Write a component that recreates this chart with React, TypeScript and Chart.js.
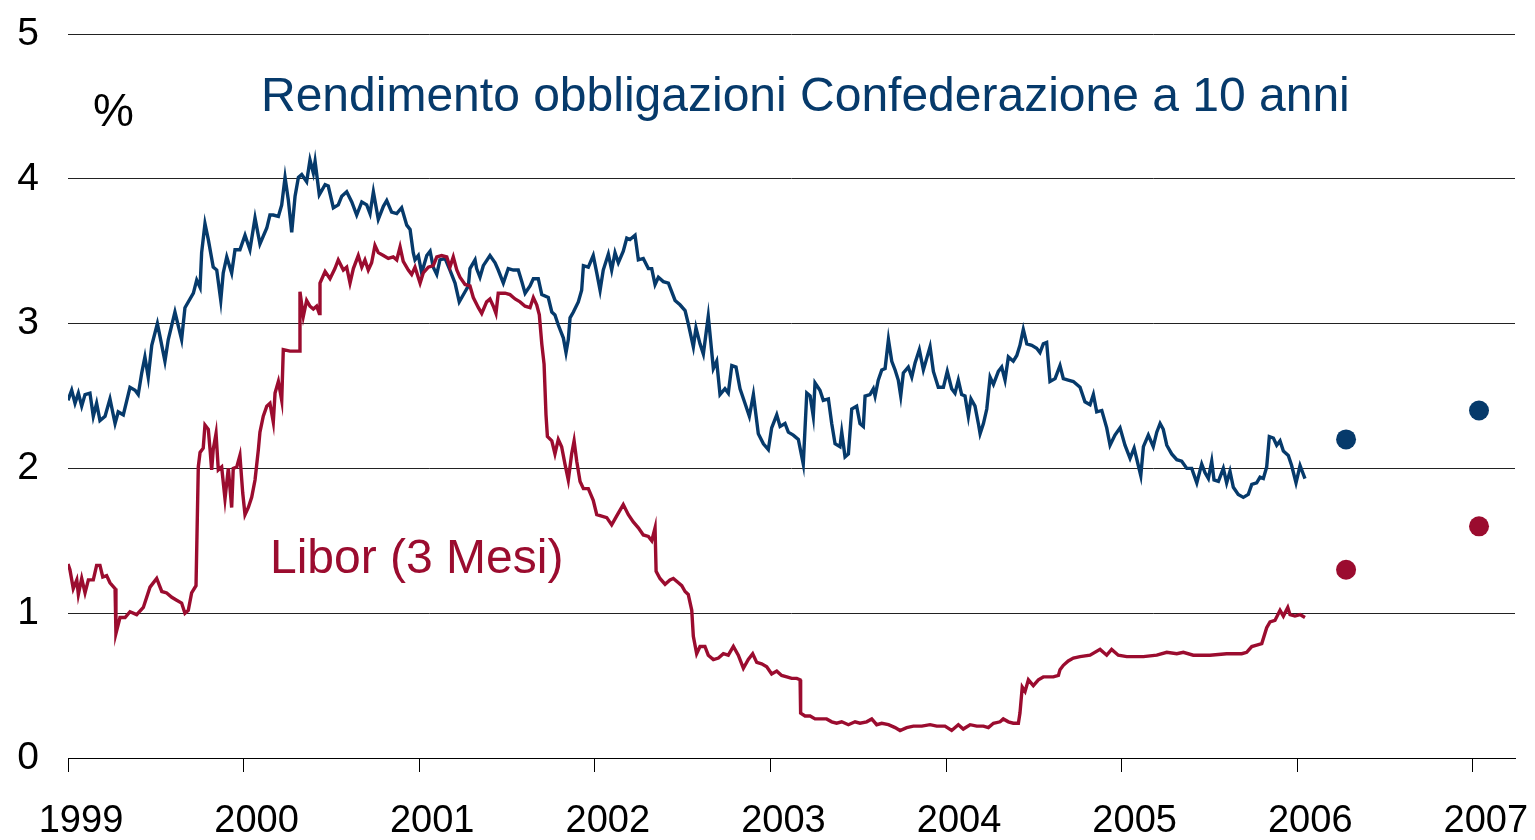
import React, { useEffect, useRef } from "react";
import { Chart, registerables } from "chart.js";

Chart.register(...registerables);

const BASE_YEAR = 1999;
const FONT = "'Liberation Sans', Arial, Helvetica, sans-serif";
const BLUE = "#063a6b";
const RED = "#9b0c2f";

const TITLE = "Rendimento obbligazioni Confederazione a 10 anni";
const LIBOR_LABEL = "Libor (3 Mesi)";
const UNIT_LABEL = "%";

const yearTicks = [1999, 2000, 2001, 2002, 2003, 2004, 2005, 2006, 2007];
const yTicks = [0, 1, 2, 3, 4, 5];

// 10-year Confederation bond yield: years since 1 Jan 1999, value in %
const yieldT = [
  0.000, 0.021, 0.040, 0.059, 0.078, 0.097, 0.125, 0.144, 0.163, 0.182,
  0.211, 0.239, 0.268, 0.286, 0.315, 0.353, 0.382, 0.400, 0.420, 0.438,
  0.457, 0.477, 0.509, 0.524, 0.552, 0.571, 0.609, 0.647, 0.666, 0.714,
  0.733, 0.752, 0.761, 0.780, 0.799, 0.827, 0.847, 0.870, 0.884, 0.904,
  0.932, 0.951, 0.979, 1.008, 1.036, 1.065, 1.093, 1.132, 1.150, 1.169,
  1.198, 1.217, 1.236, 1.255, 1.274, 1.293, 1.312, 1.331, 1.359, 1.378,
  1.397, 1.407, 1.431, 1.464, 1.482, 1.511, 1.539, 1.559, 1.587, 1.616,
  1.644, 1.673, 1.701, 1.720, 1.739, 1.767, 1.796, 1.815, 1.843, 1.872,
  1.900, 1.929, 1.948, 1.966, 1.976, 1.995, 2.014, 2.043, 2.062, 2.080,
  2.100, 2.118, 2.147, 2.175, 2.204, 2.228, 2.261, 2.280, 2.289, 2.318,
  2.327, 2.346, 2.365, 2.403, 2.432, 2.450, 2.479, 2.507, 2.536, 2.564,
  2.584, 2.603, 2.631, 2.650, 2.678, 2.698, 2.735, 2.755, 2.773, 2.792,
  2.821, 2.836, 2.849, 2.859, 2.878, 2.906, 2.925, 2.935, 2.963, 2.991,
  3.011, 3.030, 3.048, 3.077, 3.096, 3.115, 3.134, 3.162, 3.182, 3.200,
  3.229, 3.248, 3.276, 3.305, 3.324, 3.343, 3.362, 3.390, 3.419, 3.457,
  3.485, 3.514, 3.532, 3.561, 3.576, 3.599, 3.618, 3.646, 3.675, 3.694,
  3.713, 3.741, 3.760, 3.780, 3.804, 3.827, 3.855, 3.880, 3.903, 3.931,
  3.960, 3.988, 4.007, 4.036, 4.055, 4.083, 4.102, 4.130, 4.159, 4.187,
  4.207, 4.226, 4.244, 4.254, 4.282, 4.301, 4.330, 4.349, 4.368, 4.396,
  4.406, 4.425, 4.444, 4.463, 4.491, 4.510, 4.529, 4.539, 4.567, 4.586,
  4.596, 4.614, 4.634, 4.653, 4.672, 4.691, 4.710, 4.728, 4.742, 4.757,
  4.785, 4.805, 4.824, 4.848, 4.871, 4.890, 4.909, 4.928, 4.956, 4.985,
  5.007, 5.032, 5.051, 5.070, 5.089, 5.108, 5.127, 5.142, 5.165, 5.184,
  5.194, 5.213, 5.232, 5.251, 5.270, 5.298, 5.317, 5.336, 5.355, 5.383,
  5.403, 5.421, 5.440, 5.460, 5.488, 5.516, 5.535, 5.554, 5.573, 5.592,
  5.621, 5.649, 5.668, 5.696, 5.725, 5.763, 5.791, 5.820, 5.839, 5.858,
  5.887, 5.915, 5.934, 5.962, 5.991, 6.019, 6.048, 6.071, 6.095, 6.109,
  6.124, 6.152, 6.180, 6.200, 6.219, 6.237, 6.257, 6.285, 6.314, 6.342,
  6.371, 6.399, 6.428, 6.456, 6.475, 6.494, 6.513, 6.526, 6.551, 6.579,
  6.598, 6.617, 6.636, 6.664, 6.693, 6.721, 6.741, 6.769, 6.788, 6.807,
  6.826, 6.841, 6.864, 6.883, 6.902, 6.921, 6.949, 6.968, 6.993, 7.016,
  7.044,
];
const yieldValues = [
  2.47, 2.54, 2.45, 2.52, 2.43, 2.51, 2.52, 2.36, 2.45, 2.33,
  2.36, 2.48, 2.31, 2.39, 2.37, 2.56, 2.54, 2.51, 2.66, 2.77,
  2.63, 2.85, 3.00, 2.91, 2.74, 2.89, 3.08, 2.89, 3.11, 3.21,
  3.30, 3.25, 3.49, 3.69, 3.58, 3.39, 3.37, 3.16, 3.35, 3.46,
  3.35, 3.51, 3.51, 3.61, 3.51, 3.73, 3.55, 3.66, 3.75, 3.75,
  3.74, 3.82, 4.01, 3.85, 3.63, 3.88, 4.01, 4.03, 3.98, 4.13,
  4.04, 4.12, 3.89, 3.96, 3.95, 3.80, 3.82, 3.88, 3.91, 3.84,
  3.75, 3.84, 3.82, 3.76, 3.91, 3.72, 3.81, 3.85, 3.77, 3.76,
  3.80, 3.68, 3.65, 3.49, 3.44, 3.47, 3.35, 3.47, 3.50, 3.39,
  3.34, 3.44, 3.45, 3.37, 3.28, 3.15, 3.22, 3.26, 3.38, 3.44,
  3.38, 3.32, 3.40, 3.47, 3.42, 3.37, 3.28, 3.38, 3.37, 3.37,
  3.29, 3.21, 3.26, 3.31, 3.31, 3.20, 3.18, 3.08, 3.06, 2.99,
  2.90, 2.80, 2.89, 3.04, 3.08, 3.15, 3.23, 3.40, 3.39, 3.47,
  3.35, 3.23, 3.37, 3.48, 3.37, 3.49, 3.42, 3.50, 3.59, 3.58,
  3.61, 3.44, 3.45, 3.38, 3.38, 3.27, 3.32, 3.29, 3.28, 3.16,
  3.13, 3.09, 3.00, 2.84, 2.97, 2.86, 2.79, 3.05, 2.69, 2.74,
  2.51, 2.55, 2.52, 2.71, 2.70, 2.55, 2.45, 2.36, 2.51, 2.24,
  2.17, 2.13, 2.28, 2.37, 2.29, 2.31, 2.25, 2.23, 2.20, 2.03,
  2.52, 2.50, 2.36, 2.59, 2.54, 2.47, 2.48, 2.31, 2.17, 2.15,
  2.25, 2.08, 2.10, 2.41, 2.43, 2.31, 2.29, 2.50, 2.51, 2.55,
  2.50, 2.61, 2.68, 2.69, 2.89, 2.74, 2.68, 2.61, 2.50, 2.66,
  2.70, 2.63, 2.73, 2.82, 2.68, 2.76, 2.84, 2.67, 2.56, 2.56,
  2.67, 2.55, 2.52, 2.61, 2.51, 2.50, 2.36, 2.48, 2.43, 2.31,
  2.24, 2.31, 2.41, 2.63, 2.58, 2.67, 2.70, 2.61, 2.77, 2.74,
  2.78, 2.85, 2.96, 2.86, 2.85, 2.83, 2.80, 2.86, 2.87, 2.60,
  2.62, 2.71, 2.62, 2.61, 2.60, 2.56, 2.46, 2.44, 2.51, 2.39,
  2.40, 2.28, 2.16, 2.23, 2.28, 2.16, 2.07, 2.14, 2.02, 1.95,
  2.15, 2.23, 2.15, 2.25, 2.31, 2.27, 2.16, 2.10, 2.06, 2.05,
  2.00, 2.00, 1.90, 2.03, 1.97, 1.93, 2.05, 1.92, 1.91, 2.00,
  1.90, 1.98, 1.87, 1.82, 1.80, 1.82, 1.89, 1.90, 1.94, 1.93,
  2.01, 2.22, 2.21, 2.16, 2.19, 2.12, 2.09, 2.02, 1.90, 2.02,
  1.93,
];

// 3-month Libor: years since 1 Jan 1999, value in %
const liborT = [
  0.000, 0.011, 0.030, 0.050, 0.059, 0.078, 0.097, 0.116, 0.144, 0.163,
  0.182, 0.198, 0.220, 0.239, 0.268, 0.273, 0.296, 0.325, 0.353, 0.391,
  0.429, 0.467, 0.505, 0.534, 0.562, 0.591, 0.619, 0.647, 0.666, 0.685,
  0.704, 0.729, 0.742, 0.752, 0.770, 0.780, 0.799, 0.809, 0.818, 0.827,
  0.843, 0.856, 0.875, 0.894, 0.913, 0.932, 0.941, 0.961, 0.979, 0.995,
  1.008, 1.027, 1.046, 1.065, 1.084, 1.093, 1.112, 1.132, 1.150, 1.169,
  1.179, 1.198, 1.217, 1.226, 1.264, 1.317, 1.321, 1.340, 1.359, 1.378,
  1.397, 1.416, 1.431, 1.435, 1.464, 1.492, 1.520, 1.539, 1.568, 1.587,
  1.606, 1.625, 1.653, 1.673, 1.691, 1.710, 1.729, 1.748, 1.767, 1.796,
  1.824, 1.852, 1.872, 1.891, 1.909, 1.938, 1.957, 1.976, 2.005, 2.023,
  2.052, 2.080, 2.100, 2.128, 2.157, 2.175, 2.194, 2.214, 2.232, 2.261,
  2.289, 2.308, 2.337, 2.356, 2.384, 2.403, 2.422, 2.437, 2.450, 2.489,
  2.517, 2.546, 2.574, 2.603, 2.631, 2.650, 2.669, 2.684, 2.698, 2.711,
  2.722, 2.730, 2.755, 2.773, 2.792, 2.811, 2.830, 2.849, 2.868, 2.882,
  2.897, 2.916, 2.935, 2.963, 2.991, 3.011, 3.039, 3.068, 3.096, 3.124,
  3.162, 3.191, 3.219, 3.248, 3.276, 3.305, 3.324, 3.343, 3.349, 3.371,
  3.400, 3.428, 3.447, 3.476, 3.495, 3.514, 3.532, 3.552, 3.561, 3.580,
  3.599, 3.627, 3.646, 3.675, 3.704, 3.732, 3.760, 3.789, 3.817, 3.846,
  3.874, 3.899, 3.922, 3.950, 3.979, 4.007, 4.036, 4.064, 4.093, 4.121,
  4.150, 4.169, 4.172, 4.197, 4.226, 4.254, 4.282, 4.320, 4.349, 4.377,
  4.406, 4.444, 4.482, 4.510, 4.548, 4.577, 4.605, 4.634, 4.672, 4.710,
  4.738, 4.776, 4.814, 4.862, 4.909, 4.947, 4.994, 5.032, 5.070, 5.098,
  5.137, 5.175, 5.213, 5.241, 5.270, 5.308, 5.326, 5.355, 5.383, 5.412,
  5.421, 5.434, 5.450, 5.469, 5.497, 5.526, 5.554, 5.583, 5.611, 5.640,
  5.649, 5.668, 5.696, 5.725, 5.763, 5.820, 5.877, 5.915, 5.943, 5.981,
  6.029, 6.124, 6.200, 6.257, 6.314, 6.351, 6.408, 6.503, 6.598, 6.684,
  6.712, 6.741, 6.769, 6.798, 6.826, 6.845, 6.873, 6.902, 6.921, 6.946,
  6.959, 6.987, 7.016, 7.044,
];
const liborValues = [
  1.34, 1.30, 1.17, 1.23, 1.13, 1.24, 1.14, 1.23, 1.23, 1.33,
  1.33, 1.25, 1.26, 1.21, 1.17, 0.86, 0.97, 0.97, 1.01, 0.99,
  1.04, 1.18, 1.24, 1.15, 1.14, 1.11, 1.09, 1.07, 1.00, 1.02,
  1.14, 1.19, 2.01, 2.11, 2.14, 2.30, 2.27, 2.13, 1.99, 2.13,
  2.24, 1.99, 2.01, 1.79, 2.00, 1.73, 2.00, 2.01, 2.09, 1.83,
  1.68, 1.73, 1.80, 1.92, 2.13, 2.25, 2.36, 2.43, 2.45, 2.32,
  2.52, 2.60, 2.47, 2.82, 2.81, 2.81, 3.22, 3.05, 3.16, 3.12,
  3.10, 3.12, 3.07, 3.28, 3.36, 3.31, 3.38, 3.44, 3.37, 3.39,
  3.28, 3.38, 3.47, 3.39, 3.44, 3.37, 3.42, 3.54, 3.49, 3.47,
  3.45, 3.46, 3.44, 3.53, 3.43, 3.37, 3.34, 3.39, 3.28, 3.35,
  3.39, 3.40, 3.46, 3.47, 3.46, 3.39, 3.46, 3.37, 3.32, 3.27,
  3.26, 3.18, 3.11, 3.07, 3.15, 3.17, 3.12, 3.07, 3.21, 3.21,
  3.20, 3.17, 3.15, 3.12, 3.11, 3.18, 3.13, 3.06, 2.86, 2.72,
  2.37, 2.22, 2.19, 2.10, 2.20, 2.15, 2.03, 1.92, 2.10, 2.19,
  2.05, 1.91, 1.86, 1.86, 1.78, 1.68, 1.67, 1.66, 1.61, 1.67,
  1.75, 1.68, 1.63, 1.59, 1.54, 1.53, 1.50, 1.59, 1.29, 1.24,
  1.20, 1.23, 1.24, 1.21, 1.19, 1.15, 1.13, 1.02, 0.84, 0.72,
  0.77, 0.77, 0.71, 0.68, 0.69, 0.72, 0.71, 0.77, 0.71, 0.62,
  0.68, 0.72, 0.66, 0.65, 0.63, 0.58, 0.60, 0.57, 0.56, 0.55,
  0.55, 0.54, 0.31, 0.29, 0.29, 0.27, 0.27, 0.27, 0.25, 0.24,
  0.25, 0.23, 0.25, 0.24, 0.25, 0.27, 0.23, 0.24, 0.23, 0.21,
  0.19, 0.21, 0.22, 0.22, 0.23, 0.22, 0.22, 0.19, 0.23, 0.20,
  0.23, 0.22, 0.22, 0.21, 0.24, 0.25, 0.27, 0.25, 0.24, 0.24,
  0.31, 0.49, 0.46, 0.54, 0.50, 0.54, 0.56, 0.56, 0.56, 0.57,
  0.61, 0.64, 0.67, 0.69, 0.70, 0.71, 0.75, 0.71, 0.75, 0.71,
  0.70, 0.70, 0.71, 0.73, 0.72, 0.73, 0.71, 0.71, 0.72, 0.72,
  0.73, 0.77, 0.78, 0.79, 0.90, 0.94, 0.95, 1.02, 0.98, 1.04,
  0.99, 0.98, 0.99, 0.97,
];

// Forecast dots
const forecastDates = [2006.278, 2007.035];
const yieldForecast = [2.2, 2.4];
const liborForecast = [1.3, 1.6];

const toPoints = (ts: number[], vs: number[], base = 0) =>
  ts.map((t, i) => ({ x: base + t, y: vs[i] }));

const textPlugin = {
  id: "chartTexts",
  afterDraw(chart: any) {
    const ctx = chart.ctx;
    ctx.save();
    ctx.textAlign = "left";
    ctx.textBaseline = "alphabetic";
    ctx.font = `48px ${FONT}`;
    ctx.fillStyle = BLUE;
    ctx.fillText(TITLE, 261, 111);
    ctx.fillStyle = RED;
    ctx.fillText(LIBOR_LABEL, 270, 573);
    ctx.font = `46px ${FONT}`;
    ctx.fillStyle = "#000";
    ctx.fillText(UNIT_LABEL, 93, 126);
    ctx.restore();
  },
};

export default function App() {
  const canvasRef = useRef<HTMLCanvasElement | null>(null);

  useEffect(() => {
    const canvas = canvasRef.current;
    if (!canvas) return;
    const chart = new Chart(canvas, {
      type: "line",
      data: {
        datasets: [
          {
            label: "Libor (3 Mesi)",
            data: toPoints(liborT, liborValues, BASE_YEAR),
            borderColor: RED,
            borderWidth: 3.4,
            pointRadius: 0,
            pointHoverRadius: 0,
            tension: 0,
            fill: false,
          },
          {
            label: "Rendimento 10 anni",
            data: toPoints(yieldT, yieldValues, BASE_YEAR),
            borderColor: BLUE,
            borderWidth: 3.4,
            pointRadius: 0,
            pointHoverRadius: 0,
            tension: 0,
            fill: false,
          },
          {
            label: "Previsione rendimento",
            data: toPoints(forecastDates, yieldForecast),
            showLine: false,
            pointRadius: 10,
            pointHoverRadius: 10,
            pointBorderWidth: 0,
            pointBackgroundColor: BLUE,
            borderColor: BLUE,
          },
          {
            label: "Previsione Libor",
            data: toPoints(forecastDates, liborForecast),
            showLine: false,
            pointRadius: 10,
            pointHoverRadius: 10,
            pointBorderWidth: 0,
            pointBackgroundColor: RED,
            borderColor: RED,
          },
        ],
      },
      options: {
        animation: false,
        responsive: false,
        maintainAspectRatio: false,
        events: [],
        layout: { autoPadding: false, padding: { top: 34, right: 20, left: 0, bottom: 0 } },
        plugins: {
          legend: { display: false },
          tooltip: { enabled: false },
          title: { display: false },
        },
        scales: {
          x: {
            type: "linear",
            min: 1999,
            max: 2007.24,
            afterBuildTicks: (axis: any) => {
              axis.ticks = yearTicks.map((v) => ({ value: v }));
            },
            afterFit: (axis: any) => {
              axis.height = 82;
              axis.paddingLeft = 0;
              axis.paddingRight = 0;
              axis.paddingTop = 0;
              axis.paddingBottom = 0;
            },
            grid: {
              drawOnChartArea: false,
              drawTicks: true,
              tickLength: 14,
              color: "#000",
              lineWidth: 1,
            },
            border: { display: true, color: "#000", width: 1 },
            ticks: {
              autoSkip: false,
              maxRotation: 0,
              minRotation: 0,
              padding: 27,
              labelOffset: 13,
              color: "#000",
              font: { family: FONT, size: 38 },
              callback: (v: any) => String(v),
            },
          },
          y: {
            type: "linear",
            min: 0,
            max: 5,
            afterBuildTicks: (axis: any) => {
              axis.ticks = yTicks.map((v) => ({ value: v }));
            },
            afterFit: (axis: any) => {
              axis.width = 68;
              axis.paddingLeft = 0;
              axis.paddingRight = 0;
              axis.paddingTop = 0;
              axis.paddingBottom = 0;
            },
            grid: {
              drawTicks: false,
              color: "#222",
              lineWidth: 1,
            },
            border: { display: false },
            ticks: {
              padding: 29,
              color: "#000",
              font: { family: FONT, size: 39 },
              callback: (v: any) => String(v),
            },
          },
        },
      },
      plugins: [textPlugin],
    } as any);
    return () => chart.destroy();
  }, []);

  return (
    <div style={{ position: "fixed", left: 0, top: 0, width: 1535, height: 840, background: "#fff" }}>
      <canvas ref={canvasRef} width={1535} height={840} style={{ display: "block", width: 1535, height: 840 }} />
    </div>
  );
}
